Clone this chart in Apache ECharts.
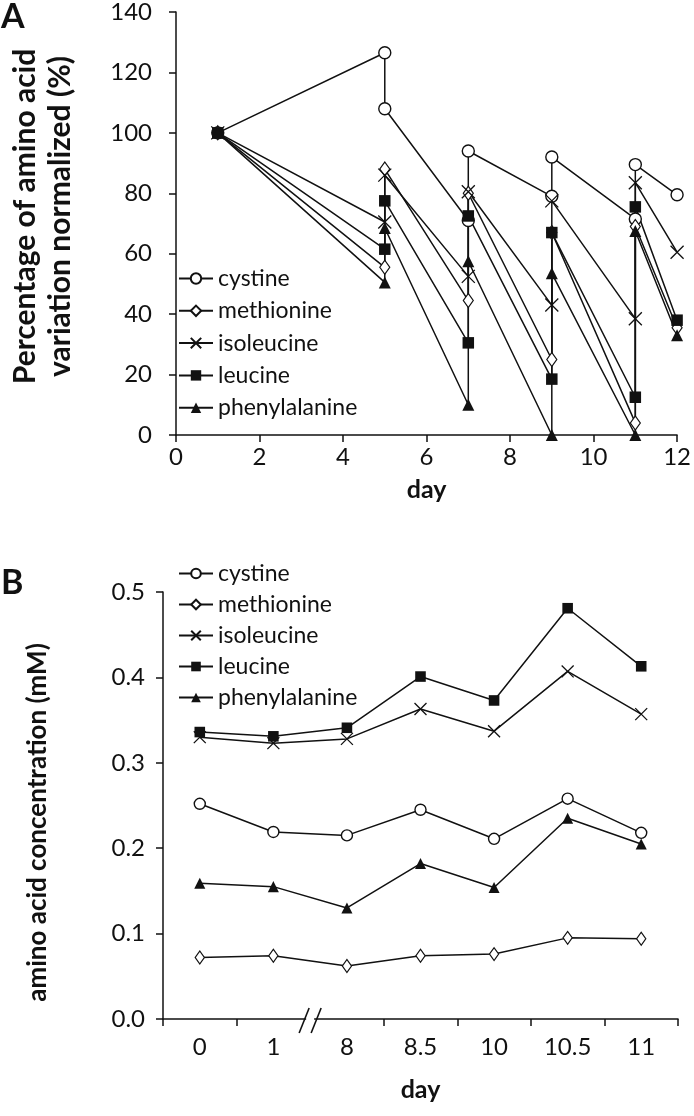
<!DOCTYPE html>
<html>
<head>
<meta charset="utf-8">
<script src="https://cdn.jsdelivr.net/npm/echarts@6/dist/echarts.min.js"></script>
<style>html,body{margin:0;padding:0;background:#fff;}#c{width:694px;height:1116px;}</style>
</head>
<body>
<div id="c"></div>
<script>
// Panel A data (day, % normalized)
const aDays = [1, 5, 5, 7, 7, 9, 9, 11, 11, 12];
const aCystine = [100, 126.5, 108, 71, 94, 79, 92, 71.5, 89.5, 79.5];
const aMethionine = [100, 55.5, 88, 44.5, 80, 25, 67, 4, 69, 35.5];
const aIsoleucine = [100, 70.5, 86, 52.5, 80.5, 43, 77.5, 38.5, 83.5, 60.5];
const aLeucine = [100, 61.5, 77.5, 30.5, 72.5, 18.5, 67, 12.5, 75.5, 38];
const aPhenylalanine = [100, 50.5, 68.5, 10, 57.5, 0, 53.5, 0, 67.5, 33];
const aXTicks = [0, 2, 4, 6, 8, 10, 12];
const aYTicks = [0, 20, 40, 60, 80, 100, 120, 140];

// Panel B data (mM)
const bDays = ['0', '1', '8', '8.5', '10', '10.5', '11'];
const bCystine = [0.252, 0.219, 0.215, 0.245, 0.211, 0.258, 0.218];
const bMethionine = [0.072, 0.074, 0.062, 0.074, 0.076, 0.095, 0.094];
const bIsoleucine = [0.330, 0.323, 0.328, 0.363, 0.337, 0.407, 0.357];
const bLeucine = [0.336, 0.331, 0.341, 0.401, 0.373, 0.481, 0.413];
const bPhenylalanine = [0.159, 0.155, 0.130, 0.182, 0.154, 0.235, 0.205];
const bYTicks = [0.0, 0.1, 0.2, 0.3, 0.4, 0.5];

const names = ['cystine', 'methionine', 'isoleucine', 'leucine', 'phenylalanine'];
const FONT = 'Lato';
const INK = '#111';

const styles = {
  cystine: {symbol: 'circle', size: 12, item: {color: '#fff', borderColor: INK, borderWidth: 1.4}},
  methionine: {symbol: 'diamond', size: [10, 14], item: {color: '#fff', borderColor: INK, borderWidth: 1.2}},
  isoleucine: {symbol: 'path://M0,0L10,10M10,0L0,10', size: 13, item: {color: 'rgba(0,0,0,0)', borderColor: INK, borderWidth: 1.3}},
  leucine: {symbol: 'rect', size: 11.5, item: {color: INK, borderColor: INK, borderWidth: 0}},
  phenylalanine: {symbol: 'triangle', size: 12, item: {color: INK, borderColor: INK, borderWidth: 0}}
};
const bSizeScale = 0.92;

function pairs(xs, ys) { return xs.map((x, i) => [x, ys[i]]); }

const aSets = [aCystine, aMethionine, aIsoleucine, aLeucine, aPhenylalanine];
const bSets = [bCystine, bMethionine, bIsoleucine, bLeucine, bPhenylalanine];

function mkSeries(name, data, axisIdx, scale) {
  const s = styles[name];
  const size = Array.isArray(s.size) ? s.size.map(v => v * scale) : s.size * scale;
  return {
    name: name,
    type: 'line',
    xAxisIndex: axisIdx, yAxisIndex: axisIdx,
    data: data,
    symbol: s.symbol,
    symbolSize: size,
    showAllSymbol: true,
    lineStyle: {color: INK, width: 1.5},
    itemStyle: s.item,
    emphasis: {disabled: true},
    animation: false,
    z: 3
  };
}

const series = [];
names.forEach((n, i) => series.push(mkSeries(n, pairs(aDays, aSets[i]), 0, 1)));
names.forEach((n, i) => series.push(mkSeries(n, bSets[i], 1, bSizeScale)));

const axisLine = {show: true, lineStyle: {color: INK, width: 1.5}};
const axisTick = {show: true, inside: false, length: 7, lineStyle: {color: INK, width: 1.5}};
const tickLabel = {color: INK, fontFamily: FONT, fontSize: 24};
const legendText = {color: INK, fontFamily: FONT, fontSize: 23};

const chart = echarts.init(document.getElementById('c'), null, {renderer: 'canvas'});

const panelLetters = [
  {type: 'text', left: 1, top: 0, style: {text: 'A', font: 'bold 34px ' + FONT, fill: INK}},
  {type: 'text', left: 1, top: 566, style: {text: 'B', font: 'bold 34px ' + FONT, fill: INK}}
];

chart.setOption({
  backgroundColor: '#fff',
  animation: false,
  grid: [
    {left: 163, right: 13, top: 9.5, height: 425.5},
    {left: 163, right: 16, top: 592, height: 427}
  ],
  legend: [
    {
      data: names, orient: 'vertical', left: 173, top: 262, itemGap: 9.3, padding: 5,
      itemWidth: 34, itemHeight: 13, textStyle: legendText,
      selectedMode: false
    },
    {
      data: names.map(n => ({name: n})), orient: 'vertical', left: 173, top: 557, itemGap: 8, padding: 5,
      itemWidth: 34, itemHeight: 12, textStyle: legendText,
      selectedMode: false
    }
  ],
  xAxis: [
    {
      type: 'value', gridIndex: 0, min: aXTicks[0], max: aXTicks[aXTicks.length - 1], interval: 2,
      axisLine: axisLine, axisTick: axisTick, splitLine: {show: false},
      axisLabel: Object.assign({}, tickLabel, {margin: 10}),
      name: 'day', nameLocation: 'middle', nameGap: 42,
      nameTextStyle: {color: INK, fontFamily: FONT, fontSize: 25, fontWeight: 'bold'}
    },
    {
      type: 'category', gridIndex: 1, data: bDays, boundaryGap: true,
      axisLine: axisLine,
      axisTick: Object.assign({}, axisTick, {alignWithLabel: false, interval: 0}),
      splitLine: {show: false},
      axisLabel: Object.assign({}, tickLabel, {margin: 16, interval: 0}),
      name: 'day', nameLocation: 'middle', nameGap: 58,
      nameTextStyle: {color: INK, fontFamily: FONT, fontSize: 25, fontWeight: 'bold'}
    }
  ],
  yAxis: [
    {
      type: 'value', gridIndex: 0, min: aYTicks[0], max: aYTicks[aYTicks.length - 1], interval: 20,
      axisLine: axisLine, axisTick: axisTick, splitLine: {show: false},
      axisLabel: Object.assign({}, tickLabel, {margin: 24}),
      name: 'Percentage of amino acid\nvariation normalized (%)', nameLocation: 'middle', nameGap: 98,
      nameTextStyle: {color: INK, fontFamily: FONT, fontSize: 30, fontWeight: 'bold', lineHeight: 35, padding: [0, 0, 0, 14]}
    },
    {
      type: 'value', gridIndex: 1, min: bYTicks[0], max: bYTicks[bYTicks.length - 1], interval: 0.1,
      axisLine: axisLine, axisTick: axisTick, splitLine: {show: false},
      axisLabel: Object.assign({}, tickLabel, {margin: 18, formatter: v => v.toFixed(1)}),
      name: 'amino acid concentration (mM)', nameLocation: 'middle', nameGap: 112,
      nameTextStyle: {color: INK, fontFamily: FONT, fontSize: 26, fontWeight: 'bold', padding: [0, 34, 0, 0]}
    }
  ],
  series: series,
  graphic: panelLetters
});

// axis-break mark "//" between categories '1' and '8'
function drawBreak() {
  const p1 = chart.convertToPixel({xAxisIndex: 1, yAxisIndex: 1}, [bDays[1], 0]);
  const p2 = chart.convertToPixel({xAxisIndex: 1, yAxisIndex: 1}, [bDays[2], 0]);
  const mx = (p1[0] + p2[0]) / 2, my = p1[1];
  const seg = (dx) => ({type: 'line', shape: {x1: mx + dx - 5, y1: my + 14, x2: mx + dx + 5, y2: my - 11},
    style: {stroke: INK, lineWidth: 1.6}, z: 10});
  chart.setOption({graphic: panelLetters.concat([
    {type: 'rect', shape: {x: mx - 4, y: my - 3, width: 8, height: 12}, style: {fill: '#fff'}, z: 9},
    seg(-6), seg(6)
  ])}, {replaceMerge: ['graphic']});
}
drawBreak();
</script>
</body>
</html>
